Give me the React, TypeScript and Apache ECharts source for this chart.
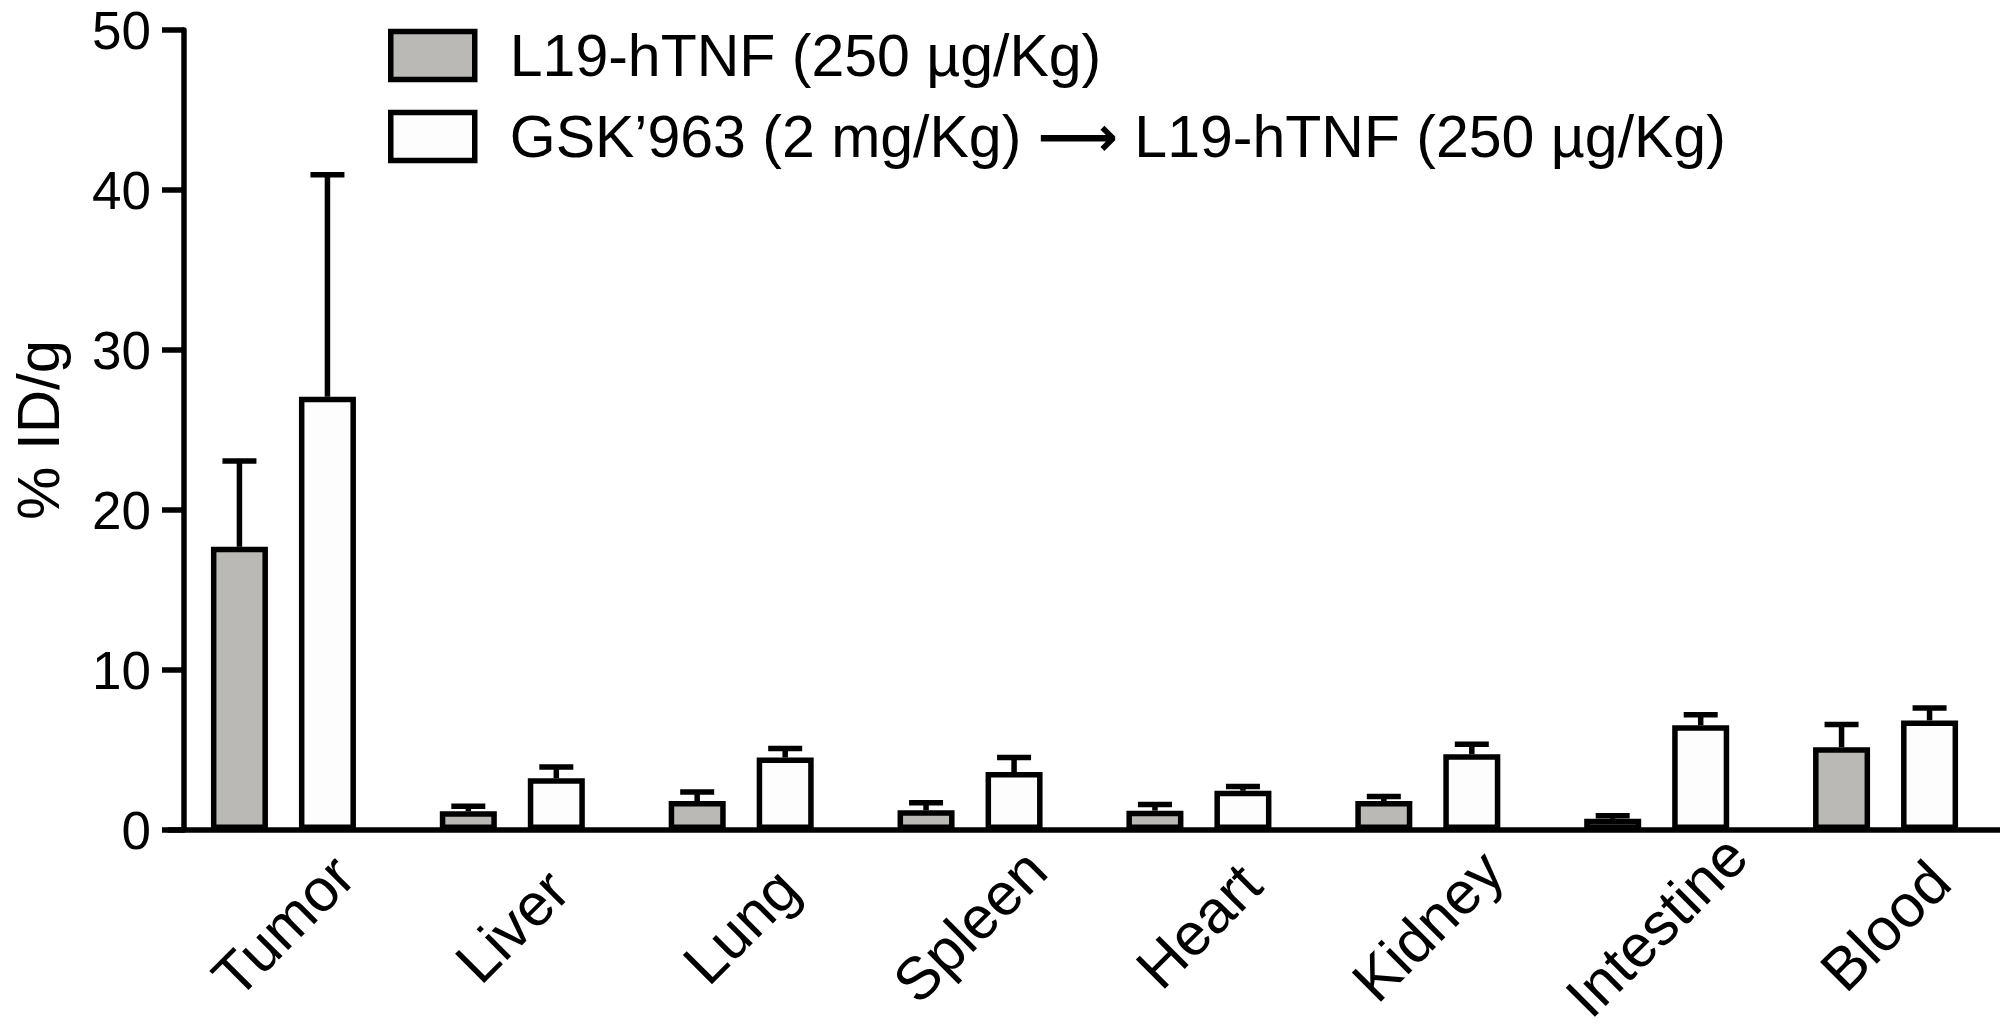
import React, { useEffect, useRef } from 'react';
import * as echarts from 'echarts';

const organs = ['Tumor', 'Liver', 'Lung', 'Spleen', 'Heart', 'Kidney', 'Intestine', 'Blood'];

const tnfName = 'L19-hTNF (250 µg/Kg)';
const comboName = 'GSK’963 (2 mg/Kg) ⟶ L19-hTNF (250 µg/Kg)';

// mean % ID/g and upper error (SEM)
const tnfMean = [17.7, 1.17, 1.81, 1.23, 1.21, 1.81, 0.7, 5.17];
const tnfErr = [5.36, 0.32, 0.57, 0.47, 0.39, 0.28, 0.19, 1.43];
const comboMean = [27.08, 3.23, 4.53, 3.62, 2.45, 4.74, 6.55, 6.85];
const comboErr = [13.87, 0.71, 0.57, 0.91, 0.27, 0.62, 0.66, 0.77];

const yTicks = [0, 10, 20, 30, 40, 50];

const FONT = '"Liberation Sans", Arial, sans-serif';
const LW = 5.5;
const BAR_W = 57;
const BAR_GAP = 31;

const errorSeries = (means: number[], errs: number[], shift: number) => ({
    type: 'custom',
    z: 1,
    encode: { x: 0, y: 1 },
    data: means.map((m, i) => [i, m, errs[i]]),
    renderItem: (_params: any, api: any) => {
        const i = api.value(0);
        const base = api.coord([i, api.value(1)]);
        const top = api.coord([i, api.value(1) + api.value(2)]);
        const x = base[0] + shift;
        const style = { stroke: '#000', lineWidth: LW };
        return {
            type: 'group',
            children: [
                { type: 'line', shape: { x1: x, y1: base[1], x2: x, y2: top[1] }, style },
                { type: 'line', shape: { x1: x - 17, y1: top[1], x2: x + 17, y2: top[1] }, style },
            ],
        };
    },
});

export default function App() {
    const chartRef = useRef<HTMLDivElement>(null);

    useEffect(() => {
        if (!chartRef.current) return;
        const chart = echarts.init(chartRef.current, undefined, { renderer: 'svg' });

        const option: any = {
            animation: false,
            backgroundColor: '#fff',
            textStyle: { fontFamily: FONT },
            legend: {
                left: 383,
                top: 21,
                orient: 'vertical',
                itemWidth: 84,
                itemHeight: 48,
                itemGap: 22,
                icon: 'rect',
                selectedMode: false,
                formatter: (name: string) => name.replace('⟶', '{arrow|⟶}'),
                textStyle: {
                    fontFamily: FONT,
                    fontSize: 59,
                    color: '#000',
                    padding: [0, 0, 0, 30],
                    rich: {
                        arrow: { fontFamily: 'DejaVu Sans', fontWeight: 'bold', fontSize: 56, color: '#000' },
                    },
                },
                data: [
                    { name: tnfName, itemStyle: { color: '#bab9b6', borderColor: '#000', borderWidth: LW } },
                    { name: comboName, itemStyle: { color: '#fdfdfd', borderColor: '#000', borderWidth: LW } },
                ],
            },
            grid: { left: 160, right: -6, top: 30, bottom: 202 },
            xAxis: {
                type: 'category',
                data: organs,
                axisLine: { lineStyle: { color: '#000', width: LW } },
                axisTick: { alignWithLabel: true, length: 20, lineStyle: { color: '#000', width: LW } },
                axisLabel: {
                    interval: 0,
                    rotate: 45,
                    align: 'center',
                    verticalAlign: 'middle',
                    margin: 96,
                    fontSize: 60,
                    color: '#000',
                    fontFamily: FONT,
                },
            },
            yAxis: {
                type: 'value',
                min: yTicks[0],
                max: yTicks[yTicks.length - 1],
                interval: 10,
                offset: -15,
                name: '% ID/g',
                nameLocation: 'middle',
                nameGap: 116,
                nameRotate: 90,
                nameTextStyle: { fontSize: 60, color: '#000', fontFamily: FONT },
                splitLine: { show: false },
                axisLine: { show: true, lineStyle: { color: '#000', width: LW } },
                axisTick: { show: true, length: 22, lineStyle: { color: '#000', width: LW } },
                axisLabel: { fontSize: 53, color: '#000', margin: 33, fontFamily: FONT },
            },
            series: [
                {
                    name: tnfName,
                    type: 'bar',
                    z: 2,
                    barWidth: BAR_W,
                    barGap: `${(BAR_GAP / BAR_W) * 100}%`,
                    data: tnfMean,
                    itemStyle: { color: '#bab9b6', borderColor: '#000', borderWidth: LW },
                },
                {
                    name: comboName,
                    type: 'bar',
                    z: 2,
                    barWidth: BAR_W,
                    barGap: `${(BAR_GAP / BAR_W) * 100}%`,
                    data: comboMean,
                    itemStyle: { color: '#fdfdfd', borderColor: '#000', borderWidth: LW },
                },
                errorSeries(tnfMean, tnfErr, -(BAR_W + BAR_GAP) / 2),
                errorSeries(comboMean, comboErr, (BAR_W + BAR_GAP) / 2),
            ],
        };

        chart.setOption(option);
        return () => chart.dispose();
    }, []);

    return (
        <div
            ref={chartRef}
            style={{ position: 'absolute', left: 0, top: 0, width: 2000, height: 1032 }}
        />
    );
}
